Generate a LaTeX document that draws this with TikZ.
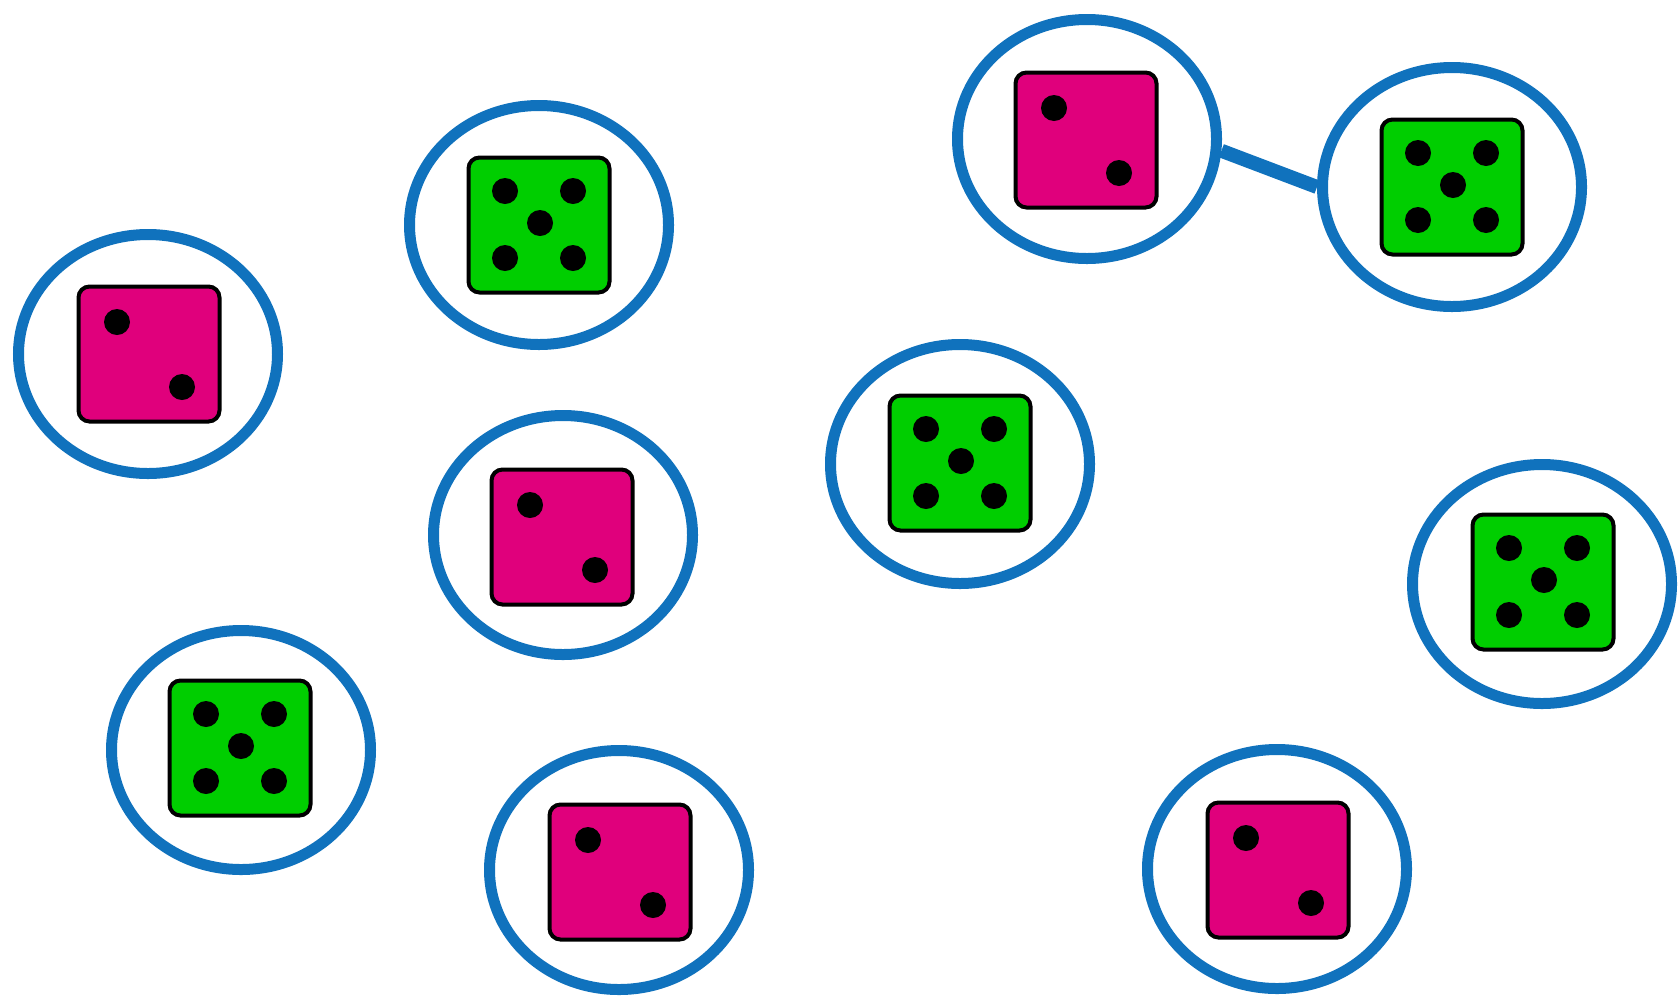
\documentclass[tikz,border=0pt]{standalone}
\usetikzlibrary{shapes.geometric}
\definecolor{ringblue}{RGB}{16,114,189}
\definecolor{dpink}{RGB}{224,0,124}
\definecolor{dgreen}{RGB}{0,206,0}
\tikzset{
  ring/.style={ellipse, draw=ringblue, line width=11pt, minimum width=259pt, minimum height=239pt, inner sep=0pt},
  diebox/.style={rectangle, rounded corners=11pt, draw=black, line width=4pt, minimum width=141pt, minimum height=135pt, inner sep=0pt},
  pinkdie/.style={diebox, fill=dpink},
  greendie/.style={diebox, fill=dgreen},
  pip/.style={circle, fill=black, minimum size=26pt, inner sep=0pt},
  bluelink/.style={draw=ringblue, line width=14pt},
}
\newcommand\pinkset[5]{%
  \node[ring] (#1) at (#2,#3) {};
  \node[pinkdie] (#1d) at (#4,#5) {};
  \node[pip] (#1a) at ([shift={(-32,-32)}]#1d) {};
  \node[pip] (#1b) at ([shift={(33,33)}]#1d) {};
}
\newcommand\greenset[5]{%
  \node[ring] (#1) at (#2,#3) {};
  \node[greendie] (#1d) at (#4,#5) {};
  \node[pip] (#1a) at ([shift={(-34,-34)}]#1d) {};
  \node[pip] (#1b) at ([shift={(34,-34)}]#1d) {};
  \node[pip] (#1c) at ([shift={(1,-2)}]#1d) {};
  \node[pip] (#1e) at ([shift={(-34,33)}]#1d) {};
  \node[pip] (#1f) at ([shift={(34,33)}]#1d) {};
}
\begin{document}
\begin{tikzpicture}[x=1pt,y=-1pt]
  \fill[white] (0,0) rectangle (1680,997);
  \useasboundingbox (0,0) rectangle (1680,997);
  \pinkset{r1}{148}{354}{149}{354}
  \greenset{r2}{539}{225}{539}{225}
  \pinkset{r3}{563}{535}{562}{537}
  \greenset{r4}{241}{750}{240}{748}
  \pinkset{r5}{619}{870}{620}{872}
  \greenset{r6}{960}{464}{960}{463}
  \pinkset{r7}{1087}{139}{1086}{140}
  \greenset{r8}{1452}{187}{1452}{187}
  \greenset{r9}{1542}{584}{1543}{582}
  \pinkset{r10}{1277}{869}{1278}{870}
  \path[bluelink] (r7.-5) -- (r8.180);
\end{tikzpicture}
\end{document}
